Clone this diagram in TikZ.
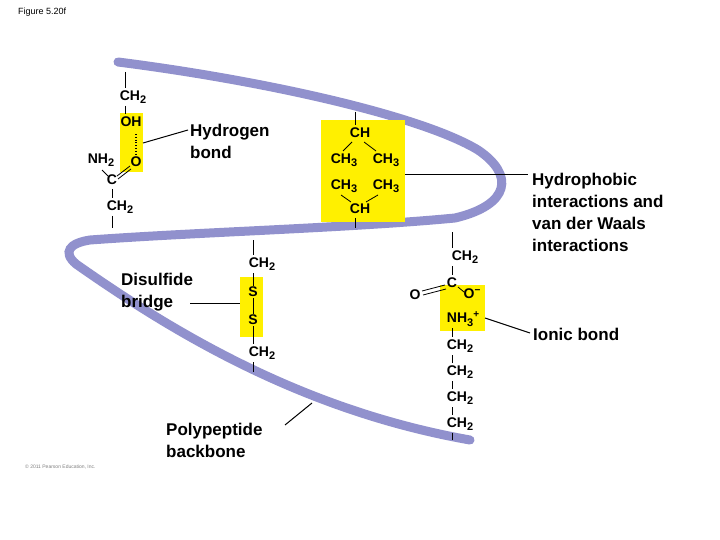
\documentclass[tikz,border=0pt]{standalone}
\usepackage{fontspec}
\setmainfont{Liberation Sans}
\newcommand{\sbs}[1]{\raisebox{-0.45ex}{\fontsize{11}{12}\selectfont #1}}
\newcommand{\sps}[1]{\raisebox{0.7ex}{\fontsize{10}{12}\selectfont #1}}
\begin{document}
\begin{tikzpicture}[x=1pt,y=-1pt,
  lab/.style={anchor=west,font=\fontsize{17}{22}\selectfont\bfseries,align=left,inner sep=0pt},
  chem/.style={font=\fontsize{14}{16}\selectfont\bfseries,inner sep=1pt},
  ribbon/.style={draw=rib,line width=9pt,line cap=round},
  bond/.style={line width=0.8pt},
  ybox/.style={fill=yel,draw=none}]
\definecolor{rib}{RGB}{145,145,205}
\definecolor{yel}{RGB}{255,240,0}
\useasboundingbox (0,0) rectangle (720,540);
\fill[white] (0,0) rectangle (720,540);
% ribbon
\draw[ribbon] (118,62) .. controls (260,80) and (420,115) .. (478,150)
  .. controls (515,175) and (510,205) .. (455,218)
  .. controls (350,228) and (200,232) .. (90,240)
  .. controls (70,243) and (62,252) .. (76,264)
  .. controls (170,330) and (300,410) .. (470,440);
% yellow boxes
\fill[yel] (120,113) rectangle (143,172);
\fill[yel] (321,120) rectangle (405,222);
\fill[yel] (240,277) rectangle (263,337);
\fill[yel] (440,285) rectangle (485,331);
% left residue
\node[chem] (ch2a) at (133,97) {CH\sbs{2}};
\node[chem] (oh) at (131,122) {OH};
\node[chem] (o1) at (136,162) {O};
\node[chem] (nh2) at (101,160) {NH\sbs{2}};
\node[chem] (c1) at (112,180) {C};
\node[chem] (ch2b) at (120,207) {CH\sbs{2}};
\coordinate (t1) at (125,72);
\coordinate (b1) at (112,228);
\draw[bond] (t1) -- (125,88);
\draw[bond] (125,106) -- (125,114);
\draw[bond,dotted,line width=2pt] (136,134) -- (136,154);
\draw[bond] (102,170) -- (108,176);
\draw[bond] (117,176) -- (130,166);
\draw[bond] (118,179) -- (131,169);
\draw[bond] (112,189) -- (112,198);
\draw[bond] (112,216) -- (b1);
\coordinate (hb) at (143,143);
\node[lab] (hlab) at (190,141) {Hydrogen\\bond};
\draw[bond,line width=1pt] (hb) -- (188,130);
% hydrophobic
\node[chem] (ch1) at (360,133) {CH};
\node[chem] (m1) at (344,160) {CH\sbs{3}};
\node[chem] (m2) at (386,160) {CH\sbs{3}};
\node[chem] (m3) at (344,186) {CH\sbs{3}};
\node[chem] (m4) at (386,186) {CH\sbs{3}};
\node[chem] (ch2) at (360,209) {CH};
\draw[bond] (355,112) -- (355,125);
\draw[bond] (352,142) -- (343,151);
\draw[bond] (364,142) -- (376,151);
\draw[bond] (341,195) -- (351,202);
\draw[bond] (378,195) -- (366,202);
\draw[bond] (355,218) -- (355,228);
\node[lab] (hylab) at (532,212) {Hydrophobic\\interactions and\\van der Waals\\interactions};
\draw[bond,line width=1pt] (405,175) -- (528,175);
% disulfide
\node[chem] (ch2c) at (262,264) {CH\sbs{2}};
\node[chem] (s1) at (253,292) {S};
\node[chem] (s2) at (253,320) {S};
\node[chem] (ch2d) at (262,353) {CH\sbs{2}};
\draw[bond] (253,240) -- (253,255);
\draw[bond] (253,273) -- (s1.north);
\draw[bond] (s1.south) -- (s2.north);
\draw[bond] (s2.south) -- (253,344);
\draw[bond] (253,362) -- (253,372);
\node[lab] (dlab) at (121,292) {Disulfide\\bridge};
\draw[bond,line width=1pt] (190,303) -- (240,303);
% polypeptide
\node[lab] (plab) at (166,440) {Polypeptide\\backbone};
\draw[bond,line width=1pt] (285,425) -- (312,403);
% ionic
\node[chem] (ch2e) at (465,257) {CH\sbs{2}};
\node[chem] (c2) at (452,283) {C};
\node[chem] (o2) at (415,295) {O};
\node[chem] (om) at (472,294) {O\sps{−}};
\node[chem] (nh3) at (463,319) {NH\sbs{3}\sps{+}};
\node[chem] (r1) at (460,346) {CH\sbs{2}};
\node[chem] (r2) at (460,372) {CH\sbs{2}};
\node[chem] (r3) at (460,398) {CH\sbs{2}};
\node[chem] (r4) at (460,424) {CH\sbs{2}};
\draw[bond] (452,232) -- (452,248);
\draw[bond] (452,266) -- (452,275);
\draw[bond] (445,285) -- (422,291);
\draw[bond] (446,289) -- (423,295);
\draw[bond] (458,287) -- (464,292);
\draw[bond] (452,328) -- (452,337);
\draw[bond] (452,355) -- (452,363);
\draw[bond] (452,381) -- (452,389);
\draw[bond] (452,407) -- (452,415);
\draw[bond] (452,433) -- (452,440);
\node[lab] (ilab) at (533,334) {Ionic bond};
\draw[bond,line width=1pt] (485,318) -- (530,333);
% captions
\node[anchor=west,font=\fontsize{9}{10}\selectfont,inner sep=0pt] (fig) at (18,12) {Figure 5.20f};
\node[anchor=west,font=\fontsize{5}{6}\selectfont,text=gray,inner sep=0pt] (cp) at (25,467) {© 2011 Pearson Education, Inc.};
\end{tikzpicture}
\end{document}
